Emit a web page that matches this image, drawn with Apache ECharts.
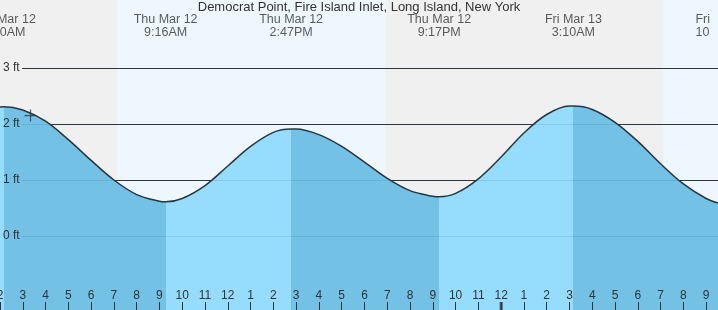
<!DOCTYPE html>
<html>
<head>
<meta charset="utf-8">
<script src="https://cdn.jsdelivr.net/npm/echarts@6/dist/echarts.min.js"></script>
<style>html,body{margin:0;padding:0;background:#fff}#c{width:718px;height:310px}</style>
</head>
<body>
<div id="c"></div>
<script>
// Hours since Thu Mar 12 00:00 and tide height (ft)
var hours   = [1.9, 2.17, 3, 4, 5, 6, 7, 8, 9, 9.27, 10, 11, 12, 13, 14, 14.78, 15, 16, 17, 18, 19, 20, 21, 21.28, 22, 23, 24, 25, 26, 27, 27.17, 28, 29, 30, 31, 32, 33, 33.6];
var heights = [2.30, 2.31, 2.25, 2.05, 1.72, 1.35, 1.00, 0.74, 0.62, 0.61, 0.67, 0.90, 1.25, 1.60, 1.85, 1.91, 1.91, 1.81, 1.60, 1.32, 1.03, 0.81, 0.71, 0.70, 0.76, 1.02, 1.41, 1.84, 2.17, 2.32, 2.32, 2.26, 2.03, 1.69, 1.29, 0.93, 0.67, 0.58];

// High / low events
var eventHours = [2.17, 9.27, 14.78, 21.28, 27.17, 33.83];
var eventDays  = ['Thu Mar 12', 'Thu Mar 12', 'Thu Mar 12', 'Thu Mar 12', 'Fri Mar 13', 'Fri Mar 13'];
var eventTimes = ['2:10AM', '9:16AM', '2:47PM', '9:17PM', '3:10AM', '10:05AM'];

// Daylight spans (hours)
var dayStarts = [7.13, 31.12];
var dayEnds   = [18.92, 33.6];

// Y tick values (ft)
var yTicks = [0, 1, 2, 3];

var xMin = 2, xMax = 33.52, yMin = -1.3214, yMax = 4.2143;
var gridStart = 2.97;
var nowPoint = [3.34, 2.15];
var midnight = 24;

var pts = hours.map(function (h, i) { return [h, heights[i]]; });

var FALL = '#73c1e5', RISE = '#96dcfc';
var pieces = [];
var bounds = [-Infinity].concat(eventHours.slice(0, 5)).concat([Infinity]);
for (var i = 0; i < bounds.length - 1; i++) {
  var p = { color: (i % 2 === 0) ? RISE : FALL };
  if (bounds[i] !== -Infinity) p.gte = bounds[i];
  if (bounds[i + 1] !== Infinity) p.lt = bounds[i + 1];
  pieces.push(p);
}

var FONT = '"Liberation Sans", Arial, sans-serif';
var EV_FONT = 12.5;

var eventData = eventHours.map(function (h, i) {
  var item = { value: [h, 3.755], day: eventDays[i], time: eventTimes[i] };
  if (i === eventHours.length - 1) {
    // the right-most label is cut at the chart's right margin
    item.label = { align: 'left', width: 16.2, overflow: 'truncate', ellipsis: '', offset: [-29.6, 0] };
  }
  return item;
});

var chart = echarts.init(document.getElementById('c'), null, { renderer: 'canvas' });
chart.setOption({
  animation: false,
  title: {
    text: 'Democrat Point, Fire Island Inlet, Long Island, New York',
    left: 'center', top: 0, padding: 0,
    textStyle: { fontSize: 13, fontWeight: 'normal', color: '#333', fontFamily: FONT, lineHeight: 14 }
  },
  grid: { left: 0, right: 0, top: 0, bottom: 0, show: true, backgroundColor: '#f0f0f0', borderWidth: 0, outerBoundsMode: 'none', containLabel: false },
  visualMap: { type: 'piecewise', show: false, dimension: 0, seriesIndex: 2, pieces: pieces },
  xAxis: {
    type: 'value', min: xMin, max: xMax, interval: 1, z: 20,
    axisLine: { show: false, onZero: false },
    splitLine: { show: false },
    axisTick: { show: true, inside: true, length: 8, lineStyle: { color: '#333', width: 1 } },
    axisLabel: {
      inside: true, margin: 8, color: '#333', fontSize: 12, fontFamily: FONT,
      showMinLabel: true, showMaxLabel: false, hideOverlap: false,
      formatter: function (v) { var h = Math.round(v) % 12; return String(h === 0 ? 12 : h); }
    }
  },
  yAxis: {
    type: 'value', min: yMin, max: yMax, z: 20,
    axisLine: { show: false, onZero: false }, axisTick: { show: false }, splitLine: { show: false },
    axisLabel: {
      inside: true, margin: 3, color: '#333', fontSize: 12, fontFamily: FONT,
      customValues: yTicks, formatter: '{value} ft'
    }
  },
  series: [
    { // day/night backgrounds
      type: 'line', data: [], z: 0, silent: true,
      markArea: {
        silent: true, z: 0,
        itemStyle: { color: '#eef7fe' },
        data: dayStarts.map(function (s, i) { return [{ xAxis: s }, { xAxis: dayEnds[i] }]; })
      }
    },
    { // dark grid lines under the fill
      type: 'line', data: [], z: 1, silent: true,
      markLine: {
        silent: true, z: 1, symbol: 'none', label: { show: false },
        lineStyle: { color: '#333', width: 1, type: 'solid' },
        data: yTicks.map(function (t) { return [{ coord: [gridStart, t] }, { coord: [xMax, t] }]; })
      }
    },
    { // filled water
      type: 'line', data: pts, z: 2, smooth: 0.35, showSymbol: false, silent: true,
      lineStyle: { width: 0 },
      areaStyle: { opacity: 1, origin: 'start' }
    },
    { // faint grid lines over the fill
      type: 'line', data: [], z: 3, silent: true,
      markLine: {
        silent: true, z: 3, symbol: 'none', label: { show: false },
        lineStyle: { color: 'rgba(20,80,130,0.13)', width: 1, type: 'solid' },
        data: yTicks.map(function (t) { return [{ coord: [gridStart, t] }, { coord: [xMax, t] }]; })
      }
    },
    { // curve stroke
      type: 'line', data: pts, z: 4, smooth: 0.35, showSymbol: false, silent: true,
      lineStyle: { color: '#333', width: 1.5 }
    },
    { // event labels
      type: 'scatter', z: 5, clip: false, silent: true,
      symbolSize: 0.1, itemStyle: { color: 'transparent' },
      data: eventData,
      label: {
        show: true, position: 'inside', color: '#333', fontSize: EV_FONT, fontFamily: FONT, lineHeight: 13,
        align: 'center', verticalAlign: 'middle',
        formatter: function (p) { return p.data.day + '\n' + p.data.time; }
      }
    },
    { // current-time cross
      type: 'scatter', z: 6, silent: true,
      symbol: 'path://M4.5,0H5.5V4.5H10V5.5H5.5V10H4.5V5.5H0V4.5H4.5Z', symbolSize: 12,
      itemStyle: { color: '#333' },
      data: [nowPoint]
    },
    { // midnight tick
      type: 'scatter', z: 6, silent: true, clip: false,
      symbol: 'rect', symbolSize: [3, 8],
      itemStyle: { color: '#333' },
      data: [[midnight, -1.25]]
    }
  ]
});
</script>
</body>
</html>
